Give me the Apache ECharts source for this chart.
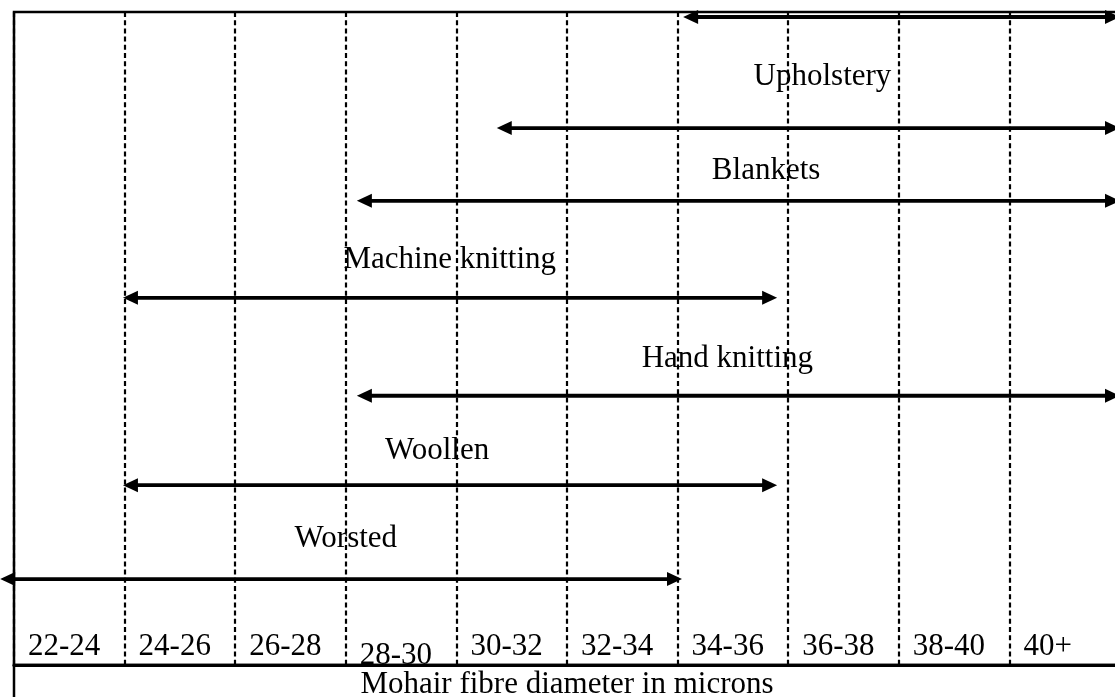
<!DOCTYPE html>
<html>
<head>
<meta charset="utf-8">
<title>Mohair end uses by fibre diameter</title>
<script src="https://cdn.jsdelivr.net/npm/echarts@6/dist/echarts.min.js"></script>
<style>
  html, body { margin: 0; padding: 0; background: #fff; }
  #chart { width: 1115px; height: 697px; }
</style>
</head>
<body>
<div id="chart"></div>
<script>
// diameter classes along the bottom row (2 micron steps starting at 22)
var sizeLabels = ['22-24', '24-26', '26-28', '28-30', '30-32', '32-34', '34-36', '36-38', '38-40', '40+']
var axisTitle = 'Mohair fibre diameter in microns'

// arrow spans in microns (tip to tip), top to bottom; level = row on the diagram
var arrowFrom = [34.1, 30.73, 28.2, 23.97, 28.2, 23.97, 21.75]
var arrowTo = [42, 42, 42, 35.8, 42, 35.8, 34.08]
var arrowLevel = [0.1, 2.31, 3.76, 5.69, 7.64, 9.42, 11.29]

// end-use names and where they sit
var useNames = ['Upholstery', 'Blankets', 'Machine knitting', 'Hand knitting', 'Woollen', 'Worsted']
var useX = [36.62, 35.6, 29.88, 34.9, 29.65, 28.0]
var useLevel = [1.3, 3.17, 4.94, 6.9, 8.74, 10.48]

var serif = "'Liberation Serif', 'Times New Roman', serif"

var chart = echarts.init(document.getElementById('chart'))

var arrowData = arrowFrom.map(function(v, i) {
  return [v, arrowTo[i], arrowLevel[i]]
})
var nameData = useX.map(function(v, i) {
  return [v, useLevel[i]]
})

function renderArrow(params, api) {
  var a = api.coord([api.value(0), api.value(2)])
  var b = api.coord([api.value(1), api.value(2)])
  var len = 15
  var half = 7
  return {
    type: 'group',
    children: [
      {
        type: 'line',
        shape: { x1: a[0] + len - 2, y1: a[1], x2: b[0] - len + 2, y2: b[1] },
        style: { stroke: '#000', lineWidth: 3.8 }
      },
      {
        type: 'polygon',
        shape: { points: [[a[0], a[1]], [a[0] + len, a[1] - half], [a[0] + len, a[1] + half]] },
        style: { fill: '#000' }
      },
      {
        type: 'polygon',
        shape: { points: [[b[0], b[1]], [b[0] - len, b[1] - half], [b[0] - len, b[1] + half]] },
        style: { fill: '#000' }
      }
    ]
  }
}

function renderName(params, api) {
  var p = api.coord([api.value(0), api.value(1)])
  return {
    type: 'text',
    x: p[0],
    y: p[1],
    style: {
      text: useNames[params.dataIndex],
      fill: '#000',
      fontSize: 31,
      fontFamily: serif,
      align: 'center',
      verticalAlign: 'middle'
    }
  }
}

chart.setOption({
  backgroundColor: '#fff',
  animation: false,
  grid: [
    {
      left: 14,
      top: 12,
      width: 1106,
      height: 653,
      show: true,
      borderColor: '#000',
      borderWidth: 2.5,
      backgroundColor: 'transparent',
      containLabel: false,
      outerBoundsMode: 'none'
    },
    {
      left: 14,
      top: 665,
      width: 1106,
      height: 60,
      show: true,
      borderColor: '#000',
      borderWidth: 2.5,
      backgroundColor: 'transparent',
      containLabel: false,
      outerBoundsMode: 'none'
    }
  ],
  xAxis: [
    {
      type: 'value',
      gridIndex: 0,
      min: 22,
      max: 42,
      interval: 2,
      position: 'bottom',
      axisLine: { show: true, onZero: false, lineStyle: { color: '#000', width: 3 } },
      axisTick: { show: false },
      splitLine: { show: true, lineStyle: { color: '#000', width: 2.2, type: [5, 3.2] } },
      axisLabel: {
        inside: true,
        margin: -6,
        align: 'left',
        padding: [0, 0, 0, 14],
        showMinLabel: true,
        showMaxLabel: true,
        formatter: function(v) {
          var t = sizeLabels[Math.round((v - 22) / 2)]
          if (!t) return ''
          return t === '28-30' ? '{low|' + t + '}' : '{n|' + t + '}'
        },
        rich: {
          n: { fontSize: 31, fontFamily: serif, color: '#000', lineHeight: 31, padding: [0, 0, 18, 0] },
          low: { fontSize: 31, fontFamily: serif, color: '#000', lineHeight: 31, padding: [0, 0, 0, 0] }
        }
      },
      name: axisTitle,
      nameLocation: 'middle',
      nameGap: 4,
      nameMoveOverlap: false,
      nameTextStyle: { fontSize: 31, fontFamily: serif, color: '#000', lineHeight: 31 }
    },
    {
      type: 'value',
      gridIndex: 1,
      min: 22,
      max: 42,
      show: false
    }
  ],
  yAxis: [
    {
      type: 'value',
      gridIndex: 0,
      min: 0,
      max: 13,
      inverse: true,
      show: false
    },
    {
      type: 'value',
      gridIndex: 1,
      min: 0,
      max: 1,
      show: false
    }
  ],
  series: [
    {
      type: 'custom',
      name: 'ranges',
      xAxisIndex: 0,
      yAxisIndex: 0,
      renderItem: renderArrow,
      encode: { x: [0, 1], y: 2 },
      data: arrowData,
      silent: true
    },
    {
      type: 'custom',
      name: 'uses',
      xAxisIndex: 0,
      yAxisIndex: 0,
      renderItem: renderName,
      encode: { x: 0, y: 1 },
      data: nameData,
      silent: true
    }
  ]
})
</script>
</body>
</html>
